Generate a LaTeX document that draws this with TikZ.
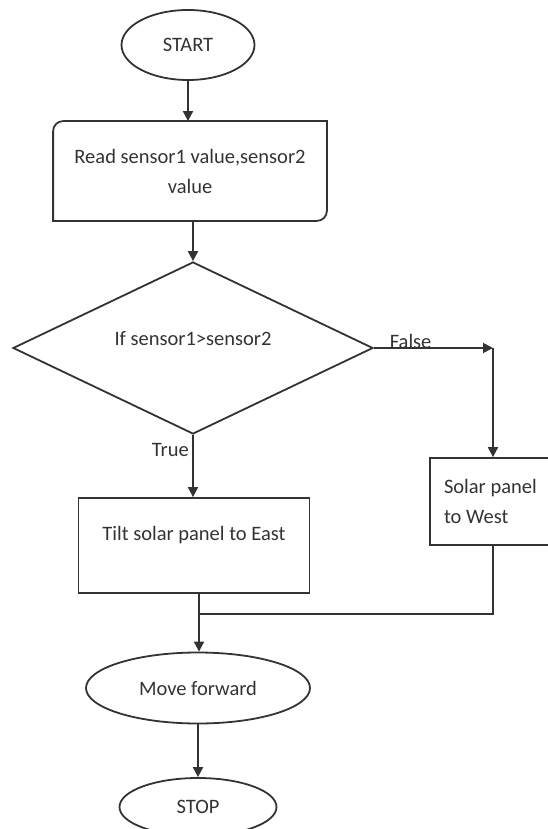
\documentclass[tikz,border=0pt]{standalone}
\usepackage{fontspec}
\setmainfont{Carlito}
\usetikzlibrary{shapes.geometric,arrows.meta}

\begin{document}
\begin{tikzpicture}[x=1pt,y=1pt,line width=1.8pt,color=black!80,
    font=\fontsize{20.5}{30}\selectfont,
    term/.style={ellipse,draw,inner sep=0pt},
    proc/.style={rectangle,draw,inner sep=0pt,align=center},
    flow/.style={-{Triangle[length=10pt,width=10pt]}}]
    \useasboundingbox (0,0) rectangle (548,-829);
    \clip (0,0) rectangle (548,-829);
    \node[term,minimum width=133pt,minimum height=70pt] (start) at (188,-45) {START};
    \node[minimum width=272pt,minimum height=98pt,align=center,inner sep=0pt] (read) at (190,-171) {Read sensor1 value,sensor2\\value};
    \draw ([yshift=-10pt]read.north west) arc[start angle=180,end angle=90,radius=10pt] -- (read.north east)
        -- ([yshift=10pt]read.south east) arc[start angle=0,end angle=-90,radius=10pt] -- (read.south west) -- cycle;
    \node[diamond,draw,aspect=2.09,minimum width=360pt,minimum height=172pt,inner sep=0pt,text depth=20pt] (cond) at (193,-348) {If sensor1>sensor2};
    \node[proc,minimum width=231pt,minimum height=95pt,text depth=24pt] (east) at (194,-545.5) {Tilt solar panel to East};
    \node[proc,minimum width=126pt,minimum height=87pt,text width=98pt,inner xsep=14pt,align=flush left] (west) at (493,-501.5) {Solar panel\\to West};
    \node[term,minimum width=224pt,minimum height=71pt] (move) at (198,-688) {Move forward};
    \node[term,minimum width=157pt,minimum height=58pt] (stop) at (198,-807) {STOP};
    \coordinate (fc) at (493,-348);
    \coordinate (join) at (199,-614);
    \draw[flow] (start.south) -- (start.south |- read.north);
    \draw[flow] (cond.north |- read.south) -- (cond.north);
    \draw[flow] (cond.east) -- node[anchor=base west,pos=0,xshift=15pt,inner sep=0pt] {False} (fc);
    \draw[flow] (fc) -- (west.north);
    \draw[flow] (cond.south) -- node[left,pos=0.25] {True} (cond.south |- east.north);
    \draw (east.south -| join) -- (join);
    \draw (west.south) |- (join);
    \draw[flow] (join) -- (join |- move.north);
    \draw[flow] (move.south) -- (stop.north);
\end{tikzpicture}
\end{document}
